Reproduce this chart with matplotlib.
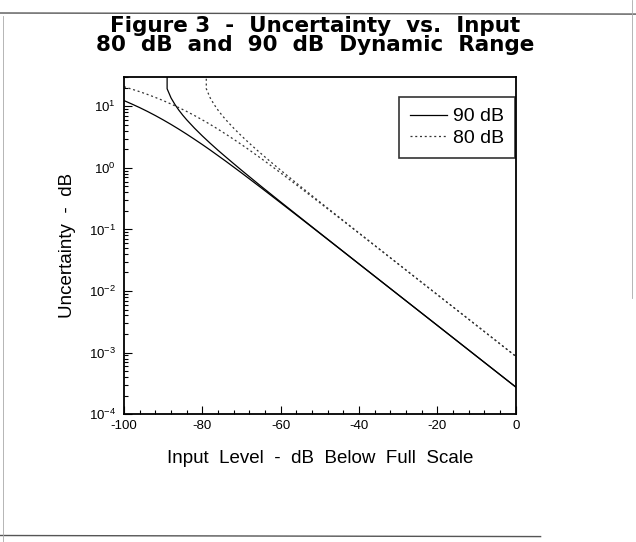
import matplotlib
matplotlib.use("Agg")
import matplotlib.pyplot as plt
from matplotlib.ticker import FixedLocator, LogLocator, NullFormatter, FixedFormatter
from matplotlib.lines import Line2D

# ---- data ----
# upper-bound curves (start at -100 dB)
x_up90 = [-100, -98, -96, -94, -92, -90, -88, -86, -84, -82, -80, -78, -76, -74, -72, -70,
          -65, -60, -55, -50, -45, -40, -30, -20, -10, 0]
y_up90 = [12.4, 10.9, 9.53, 8.25, 7.08, 6.02, 5.08, 4.25, 3.53, 2.91, 2.39, 1.95, 1.58, 1.28, 1.03, 0.828,
          0.475, 0.270, 0.153, 0.0864, 0.0487, 0.0274, 0.00868, 0.00275, 0.000869, 0.000275]

x_up80 = [-100, -98, -96, -94, -92, -90, -88, -86, -84, -82, -80, -78, -76, -74, -72, -70,
          -68, -66, -64, -62, -60, -55, -50, -45, -40, -35, -30, -20, -10, 0]
y_up80 = [20.8, 19.0, 17.3, 15.6, 13.95, 12.4, 10.9, 9.53, 8.25, 7.08, 6.02, 5.08, 4.25, 3.53, 2.91, 2.39,
          1.95, 1.58, 1.28, 1.03, 0.828, 0.475, 0.270, 0.153, 0.0864, 0.0487, 0.0274, 0.00868, 0.00275, 0.000869]

# lower-bound curves (steep branch)
x_lo90 = [-89, -89, -88, -87, -86, -85, -84, -82, -80, -78, -76, -74, -72, -70,
          -65, -60, -55, -50, -45, -40, -30, -20, -10, 0]
y_lo90 = [40, 19.3, 13.7, 10.7, 8.66, 7.17, 6.04, 4.41, 3.30, 2.51, 1.93, 1.50, 1.17, 0.915,
          0.502, 0.279, 0.156, 0.0873, 0.0490, 0.0275, 0.00869, 0.00275, 0.000869, 0.000275]

x_lo80 = [-79, -79, -78, -77, -76, -75, -74, -72, -70, -68, -66, -64, -62, -60,
          -55, -50, -45, -40, -35, -30, -20, -10, 0]
y_lo80 = [40, 19.3, 13.7, 10.7, 8.66, 7.17, 6.04, 4.41, 3.30, 2.51, 1.93, 1.50, 1.17, 0.915,
          0.502, 0.279, 0.156, 0.0873, 0.0490, 0.0275, 0.00869, 0.00275, 0.000869]

series_labels = ["90 dB", "80 dB"]
x_ticks = [-100, -80, -60, -40, -20, 0]
x_ticklabels = ["-100", "-80", "-60", "-40", "-20", "0"]
y_ticks = [1e-4, 1e-3, 1e-2, 1e-1, 1e0, 1e1]
y_ticklabels = [r"$10^{-4}$", r"$10^{-3}$", r"$10^{-2}$", r"$10^{-1}$", r"$10^{0}$", r"$10^{1}$"]

title = "Figure 3  -  Uncertainty  vs.  Input\n80  dB  and  90  dB  Dynamic  Range"
xlabel = "Input  Level  -  dB  Below  Full  Scale"
ylabel = "Uncertainty  -  dB"

# ---- figure ----
plt.rcParams['font.family'] = ['Liberation Sans', 'DejaVu Sans']
plt.rcParams['mathtext.fontset'] = 'custom'
plt.rcParams['mathtext.rm'] = 'Liberation Sans'
plt.rcParams['mathtext.it'] = 'Liberation Sans'

fig = plt.figure(figsize=(6.36, 5.42), dpi=100)
ax = fig.add_axes([0.195, 0.236, 0.616, 0.622])

dash = (0, (1.6, 2.2))
ax.plot(x_up90, y_up90, color='black', lw=0.9)
ax.plot(x_lo90, y_lo90, color='black', lw=0.9)
ax.plot(x_up80, y_up80, color='#333333', lw=0.9, linestyle=dash)
ax.plot(x_lo80, y_lo80, color='#333333', lw=0.9, linestyle=dash)

ax.set_yscale('log')
ax.set_xlim(-100, 0)
ax.set_ylim(1e-4, 30)

ax.xaxis.set_major_locator(FixedLocator(x_ticks))
ax.xaxis.set_major_formatter(FixedFormatter(x_ticklabels))
ax.xaxis.set_minor_locator(FixedLocator(list(range(-100, 1, 4))))
ax.yaxis.set_major_locator(FixedLocator(y_ticks))
ax.yaxis.set_major_formatter(FixedFormatter(y_ticklabels))
ax.yaxis.set_minor_locator(LogLocator(base=10, subs=range(2, 10), numticks=20))
ax.yaxis.set_minor_formatter(NullFormatter())

ax.tick_params(which='both', direction='in', top=False, right=False, labelsize=9.5, width=0.8)
ax.tick_params(which='major', length=6)
ax.tick_params(which='minor', length=3)
ax.tick_params(axis='x', pad=4)
ax.tick_params(axis='y', pad=6)
for s in ax.spines.values():
    s.set_linewidth(1.3)

ax.set_xlabel(xlabel, fontsize=13.5, labelpad=13)
ax.set_ylabel(ylabel, fontsize=13.5, labelpad=9)

fig.text(0.495, 0.935, title, ha='center', va='center', fontsize=15.5,
         fontweight='bold', family='DejaVu Sans', linespacing=0.95)

handles = [Line2D([], [], color='black', lw=0.9),
           Line2D([], [], color='#333333', lw=0.9, linestyle=dash)]
leg = ax.legend(handles, series_labels, loc='upper right', bbox_to_anchor=(0.997, 0.94),
                borderaxespad=0, fontsize=14, frameon=True, fancybox=False,
                handlelength=1.9, handletextpad=0.3, labelspacing=0.2,
                borderpad=0.55, edgecolor='black')
leg.get_frame().set_linewidth(1.2)

# page edges visible in the scan
fig.add_artist(Line2D([0, 1], [0.976, 0.974], transform=fig.transFigure, color='#555555', lw=1.0))
fig.add_artist(Line2D([0, 0.85], [0.012, 0.010], transform=fig.transFigure, color='#555555', lw=1.0))
fig.add_artist(Line2D([0.004, 0.004], [0.0, 0.97], transform=fig.transFigure, color='#aaaaaa', lw=0.6))
fig.add_artist(Line2D([0.994, 0.994], [0.45, 1.0], transform=fig.transFigure, color='#aaaaaa', lw=0.6))

fig.savefig("out.png", dpi=100)
